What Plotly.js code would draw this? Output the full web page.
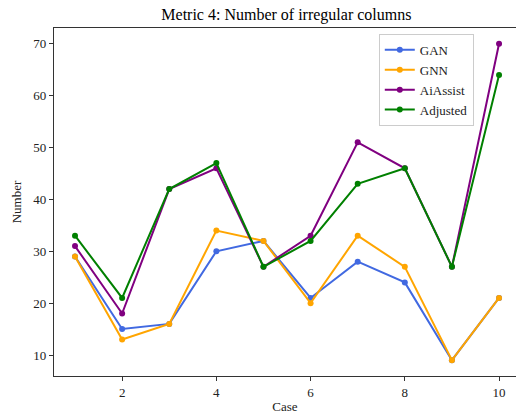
<!DOCTYPE html>
<html>
<head>
<meta charset="utf-8">
<script src="https://cdn.plot.ly/plotly-3.0.1.min.js"></script>
<style>html,body{margin:0;padding:0;background:#fff;}</style>
</head>
<body>
<div id="chart" style="width:516px;height:414px;"></div>
<script>
const cases = [1, 2, 3, 4, 5, 6, 7, 8, 9, 10];
const gan = [29, 15, 16, 30, 32, 21, 28, 24, 9, 21];
const gnn = [29, 13, 16, 34, 32, 20, 33, 27, 9, 21];
const aiAssist = [31, 18, 42, 46, 27, 33, 51, 46, 27, 70];
const adjusted = [33, 21, 42, 47, 27, 32, 43, 46, 27, 64];

const seriesNames = ['GAN', 'GNN', 'AiAssist', 'Adjusted'];
const seriesData = [gan, gnn, aiAssist, adjusted];
const seriesColors = ['#4169E1', '#FFA500', '#800080', '#008000'];

const traces = seriesData.map((ys, i) => ({
  x: cases, y: ys, name: seriesNames[i], type: 'scatter', mode: 'lines+markers',
  line: {color: seriesColors[i], width: 2},
  marker: {color: seriesColors[i], size: 6}
}));

const font = {family: '"Liberation Serif", "Times New Roman", serif', color: '#222'};

const layout = {
  width: 516, height: 414,
  margin: {l: 54, r: 0, t: 28, b: 38},
  paper_bgcolor: '#fff', plot_bgcolor: '#fff',
  font: Object.assign({size: 13}, font),
  title: {text: 'Metric 4: Number of irregular columns', font: Object.assign({}, font, {size: 16, color: '#000'}), x: 0.555, xanchor: 'center', y: 0.965, yanchor: 'middle'},
  xaxis: {
    range: [0.554, 10.36], tickvals: [2, 4, 6, 8, 10], ticks: 'outside', ticklen: 4, tickcolor: '#333',
    showline: true, linecolor: '#333', linewidth: 1.2, mirror: true, showgrid: false, zeroline: false,
    title: {text: 'Case', font: Object.assign({}, font, {size: 13}), standoff: 6},
    tickfont: Object.assign({}, font, {size: 13})
  },
  yaxis: {
    range: [5.95, 73.05], tickvals: [10, 20, 30, 40, 50, 60, 70], ticks: 'outside', ticklen: 4, tickcolor: '#333',
    showline: true, linecolor: '#333', linewidth: 1.2, showgrid: false, zeroline: false,
    title: {text: 'Number', font: Object.assign({}, font, {size: 13}), standoff: 8},
    tickfont: Object.assign({}, font, {size: 13})
  },
  legend: {
    x: 0.703, y: 0.983, xanchor: 'left', yanchor: 'top',
    bgcolor: 'rgba(255,255,255,0.8)', bordercolor: '#ccc', borderwidth: 1,
    font: Object.assign({}, font, {size: 13}), tracegroupgap: 0, itemwidth: 30
  },
  showlegend: true
};

Plotly.newPlot('chart', traces, layout, {displayModeBar: false, staticPlot: true});
</script>
</body>
</html>
